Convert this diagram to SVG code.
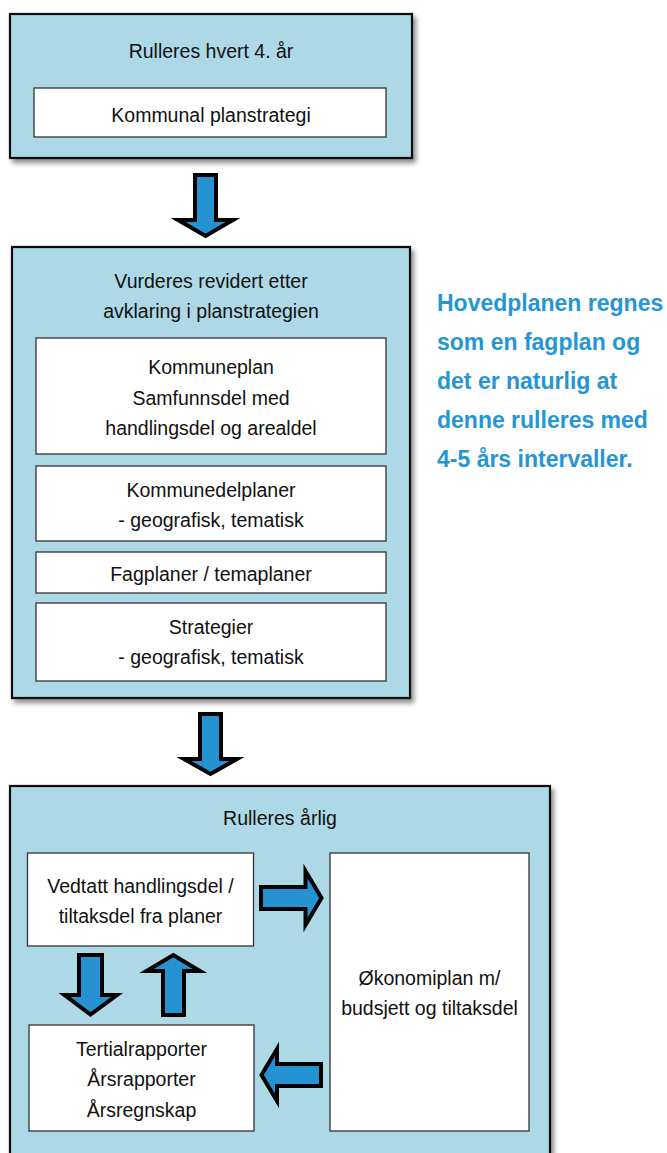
<svg xmlns="http://www.w3.org/2000/svg" width="667" height="1153" viewBox="0 0 667 1153">
<defs>
<filter id="sh" x="-5%" y="-5%" width="115%" height="115%">
<feDropShadow dx="3" dy="4" stdDeviation="2.5" flood-color="#000" flood-opacity="0.45"/>
</filter>
<style>
.outer{fill:#add8e6;stroke:#111;stroke-width:2.2;filter:url(#sh)}
.inner{fill:#fff;stroke:#333;stroke-width:1.3}
.t{font-family:"Liberation Sans",Arial,sans-serif;font-size:19.5px;fill:#111;text-anchor:middle}
.note{font-family:"Liberation Sans",Arial,sans-serif;font-size:23px;font-weight:bold;fill:#2596d3}
.arr{fill:#2592d2;stroke:#000;stroke-width:4;stroke-linejoin:miter;stroke-miterlimit:10}
</style>
</defs>
<rect width="667" height="1153" fill="#fff"/>

<g id="box1">
<rect class="outer" x="10" y="14" width="402" height="144"/>
<text class="t" x="211" y="58">Rulleres hvert 4. år</text>
<g id="planstrategi">
<rect class="inner" x="34" y="88" width="352" height="49"/>
<text class="t" x="211" y="121.5">Kommunal planstrategi</text>
</g>
</g>

<g id="box2">
<rect class="outer" x="12" y="247" width="398" height="451"/>
<text class="t" x="211" y="287.5">Vurderes revidert etter</text>
<text class="t" x="211" y="317.5">avklaring i planstrategien</text>
<g id="kommuneplan">
<rect class="inner" x="36" y="338" width="350" height="116"/>
<text class="t" x="211" y="374">Kommuneplan</text>
<text class="t" x="211" y="404.5">Samfunnsdel med</text>
<text class="t" x="211" y="435">handlingsdel og arealdel</text>
</g>
<g id="kommunedelplaner">
<rect class="inner" x="36" y="466" width="350" height="75"/>
<text class="t" x="211" y="497">Kommunedelplaner</text>
<text class="t" x="211" y="527">- geografisk, tematisk</text>
</g>
<g id="fagplaner">
<rect class="inner" x="36" y="552" width="350" height="41"/>
<text class="t" x="211" y="581">Fagplaner / temaplaner</text>
</g>
<g id="strategier">
<rect class="inner" x="36" y="603" width="350" height="78"/>
<text class="t" x="211" y="634">Strategier</text>
<text class="t" x="211" y="664">- geografisk, tematisk</text>
</g>
</g>

<g id="note">
<text class="note" x="437" y="310.5">Hovedplanen regnes</text>
<text class="note" x="437" y="350">som en fagplan og</text>
<text class="note" x="437" y="389">det er naturlig at</text>
<text class="note" x="437" y="428">denne rulleres med</text>
<text class="note" x="437" y="466.5">4-5 års intervaller.</text>
</g>

<g id="box3">
<rect class="outer" x="10" y="786" width="540" height="380"/>
<text class="t" x="280" y="825">Rulleres årlig</text>
<g id="vedtatt">
<rect class="inner" x="27.5" y="853" width="226" height="93"/>
<text class="t" x="140.5" y="892.5">Vedtatt handlingsdel /</text>
<text class="t" x="140.5" y="923">tiltaksdel fra planer</text>
</g>
<g id="okonomiplan">
<rect class="inner" x="330" y="853" width="199" height="278"/>
<text class="t" x="429.5" y="985">Økonomiplan m/</text>
<text class="t" x="429.5" y="1015">budsjett og tiltaksdel</text>
</g>
<g id="tertial">
<rect class="inner" x="29" y="1025" width="225" height="106"/>
<text class="t" x="141.5" y="1055.5">Tertialrapporter</text>
<text class="t" x="141.5" y="1086">Årsrapporter</text>
<text class="t" x="141.5" y="1116.5">Årsregnskap</text>
</g>
</g>

<g id="connectors">
<polygon class="arr" points="195,175 216,175 216,220 233,220 205.5,236 178,220 195,220"/>
<polygon class="arr" points="200,714 221,714 221,759 237,759 210.5,774 184,759 200,759"/>
<polygon class="arr" points="261,887 305.5,887 305.5,871 321.5,898 305.5,925 305.5,909 261,909"/>
<polygon class="arr" points="321,1064 277,1064 277,1049 261.5,1075 277,1101 277,1086 321,1086"/>
<polygon class="arr" points="79,955 102,955 102,995 117,995 90.5,1014.5 64.5,995 79,995"/>
<polygon class="arr" points="163,1015 184,1015 184,971 200,971 173.3,955 146.5,971 163,971"/>
</g>
</svg>
